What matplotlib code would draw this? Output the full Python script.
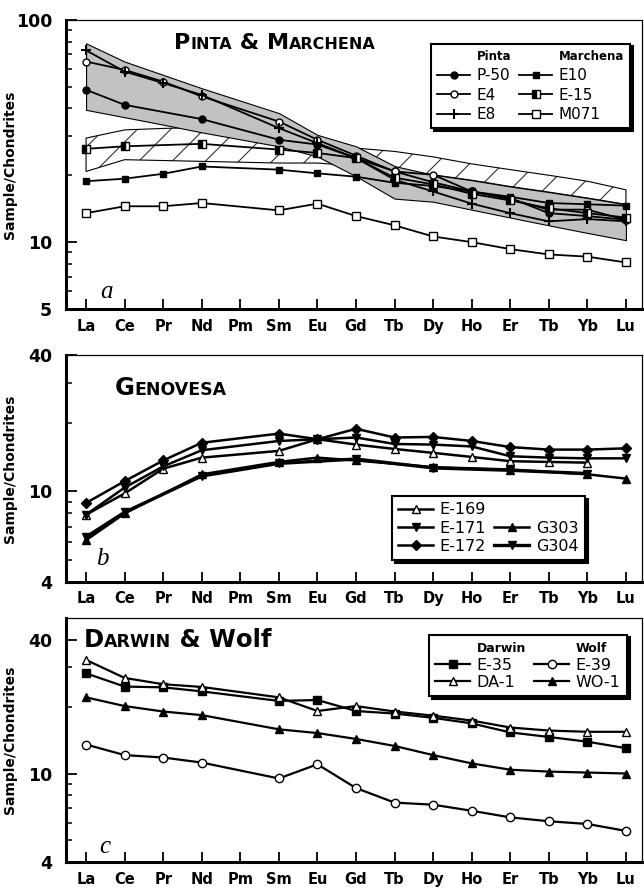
import numpy as np
import matplotlib
matplotlib.use('Agg')
import matplotlib.pyplot as plt
from matplotlib.lines import Line2D
from matplotlib.ticker import FixedLocator, NullFormatter
from matplotlib.offsetbox import TextArea, HPacker, AnnotationBbox

nan = np.nan
cats = ['La', 'Ce', 'Pr', 'Nd', 'Pm', 'Sm', 'Eu', 'Gd', 'Tb', 'Dy', 'Ho', 'Er', 'Tb', 'Yb', 'Lu']

# panel a - Pinta & Marchena
p50 = [48.5, 41.5, nan, 35.8, nan, 28.9, 27.5, 23.9, 20.8, 18.6, 16.9, 15.8, 13.5, 13.1, 12.6]
e4 = [65.0, 59.6, 52.8, 45.3, nan, 34.9, 28.9, 24.5, 20.8, 20.1, 16.9, 15.6, 14.0, 14.0, 12.6]
e8 = [73.0, 58.6, 52.0, 46.0, nan, 32.6, 27.9, 23.9, 19.1, 16.9, 14.9, 13.5, 12.4, 12.7, 12.4]
e10 = [18.8, 19.3, 20.3, 21.9, nan, 21.2, 20.4, 19.7, 18.5, 17.9, 16.9, 16.0, 15.0, 14.8, 14.6]
e15 = [26.3, 27.0, nan, 27.7, nan, 26.1, 25.2, 23.9, 19.5, 18.2, 16.5, 15.4, 14.2, 13.5, 12.9]
m071 = [13.5, 14.5, 14.5, 15.0, nan, 13.9, 14.9, 13.1, 11.9, 10.6, 10.0, 9.3, 8.8, 8.6, 8.1]
pinta_hi = [78.5, 65.0, 56.6, 49.3, nan, 38.1, 30.4, 27.0, 22.0, 20.1, 19.0, 17.8, 16.8, 15.8, 14.8]
pinta_lo = [39.4, 36.5, 33.8, 31.2, nan, 27.0, 24.3, 19.8, 15.7, 15.2, 14.0, 12.9, 11.9, 11.0, 10.2]
march_hi = [29.4, 32.0, 32.5, 32.8, nan, 29.4, 28.2, 26.5, 25.6, 24.2, 22.5, 21.2, 20.0, 18.8, 17.2]
march_lo = [20.8, 23.5, 23.3, 23.1, nan, 22.7, 22.7, 22.0, 21.0, 20.1, 19.0, 17.8, 16.8, 15.8, 14.8]

# panel b - Genovesa
e169 = [7.9, 9.8, 12.6, 14.1, nan, 15.1, 17.0, 16.1, 15.4, 14.8, 14.2, 13.6, 13.5, 13.4, nan]
e171 = [7.9, 10.4, 12.9, 15.2, nan, 16.7, 17.0, 17.3, 16.2, 16.1, 15.8, 14.3, 14.1, 14.0, 14.0]
e172 = [8.9, 11.1, 13.7, 16.4, nan, 18.0, 17.0, 18.9, 17.3, 17.4, 16.7, 15.7, 15.3, 15.3, 15.5]
g303 = [6.1, 8.0, nan, 11.9, nan, 13.5, 14.1, 13.7, nan, 12.8, nan, 12.5, nan, 11.9, 11.4]
g304 = [6.3, 8.1, nan, 11.7, nan, 13.3, nan, 13.9, nan, 12.7, nan, 12.4, nan, 12.0, nan]

# panel c - Darwin & Wolf
e35 = [28.2, 24.6, 24.4, 23.4, nan, 21.2, 21.4, 19.1, 18.6, 17.8, 16.8, 15.3, 14.6, 13.9, 13.0]
da1 = [32.4, 26.9, 25.2, 24.5, nan, 22.0, 19.1, 20.1, 19.0, 18.2, 17.3, 16.1, 15.6, 15.4, 15.4]
e39 = [13.5, 12.1, 11.8, 11.2, nan, 9.5, 11.0, 8.6, 7.4, 7.24, 6.8, 6.35, 6.1, 5.93, 5.52]
wo1 = [22.0, 20.1, 19.0, 18.3, nan, 15.8, 15.2, 14.3, 13.3, 12.1, 11.1, 10.4, 10.2, 10.1, 10.0]

plt.rcParams['font.family'] = ['DejaVu Sans']
plt.rcParams['hatch.linewidth'] = 0.8

x = np.arange(len(cats))


def series(ax, vals, **kw):
    v = np.array(vals, dtype=float)
    m = ~np.isnan(v)
    return ax.plot(x[m], v[m], color='black', markeredgecolor='black', **kw)[0]


def band(ax, lo, hi, **kw):
    lo = np.array(lo, dtype=float)
    hi = np.array(hi, dtype=float)
    m = ~np.isnan(lo)
    ax.fill_between(x[m], lo[m], hi[m], **kw)


def smallcaps(ax, xa, ya, parts, big, small):
    boxes = [TextArea(t, textprops=dict(fontsize=big if b else small, fontweight='bold'))
             for t, b in parts]
    pack = HPacker(children=boxes, align='baseline', pad=0, sep=0)
    ab = AnnotationBbox(pack, (xa, ya), xycoords='axes fraction', box_alignment=(0, 0),
                        frameon=False, pad=0)
    ax.add_artist(ab)


def style(ax, lo, hi, majors, labels, minors):
    ax.set_yscale('log')
    ax.set_ylim(lo, hi)
    ax.set_xlim(-0.52, 14.41)
    ax.set_xticks(x)
    ax.set_xticklabels(cats, fontweight='bold', fontsize=10.5)
    ax.yaxis.set_major_locator(FixedLocator(majors))
    ax.set_yticklabels(labels, fontweight='bold', fontsize=12.5)
    ax.yaxis.set_minor_locator(FixedLocator(minors))
    ax.yaxis.set_minor_formatter(NullFormatter())
    ax.tick_params(axis='x', direction='in', length=7, width=1.3, pad=7, top=False)
    ax.tick_params(axis='y', which='major', direction='in', length=8, width=1.3, pad=10, right=False)
    ax.tick_params(axis='y', which='minor', direction='in', length=4, width=1.1, right=False)
    for s in ['left', 'bottom']:
        ax.spines[s].set_linewidth(2.2)
    for s in ['top', 'right']:
        ax.spines[s].set_linewidth(0.9)
    ax.set_ylabel('Sample/Chondrites', fontweight='bold', fontsize=10)
    ax.yaxis.set_label_coords(-0.085, 0.5)


blank = Line2D([], [], color='none')

fig = plt.figure(figsize=(6.44, 8.93), dpi=100)
ax1 = fig.add_axes([0.1025, 0.654, 0.894, 0.3236])
ax2 = fig.add_axes([0.1025, 0.3486, 0.894, 0.2539])
ax3 = fig.add_axes([0.1025, 0.0347, 0.894, 0.2732])

# ---- a ----
band(ax1, march_lo, march_hi, facecolor='white', edgecolor='#333333', hatch='/', linewidth=0, zorder=1)
band(ax1, march_lo, march_hi, facecolor='none', edgecolor='black', linewidth=0.8, zorder=1.1)
band(ax1, pinta_lo, pinta_hi, facecolor='#c2c2c2', edgecolor='black', linewidth=0.8, zorder=1.5)
h_p50 = series(ax1, p50, lw=1.3, marker='o', ms=5, markerfacecolor='black')
h_e4 = series(ax1, e4, lw=1.3, marker='o', ms=5, markerfacecolor='white')
h_e8 = series(ax1, e8, lw=1.3, marker='+', ms=7, mew=1.5)
h_e10 = series(ax1, e10, lw=1.3, marker='s', ms=5, markerfacecolor='black')
h_e15 = series(ax1, e15, lw=1.3, marker='s', ms=5.5, fillstyle='left',
               markerfacecolor='black', markerfacecoloralt='white')
h_m071 = series(ax1, m071, lw=1.3, marker='s', ms=5.5, markerfacecolor='white')
style(ax1, 5, 100, [5, 10, 100], ['5', '10', '100'],
      [6, 7, 8, 9, 20, 30, 40, 50, 60, 70, 80, 90])
leg = ax1.legend([blank, h_p50, h_e4, h_e8, blank, h_e10, h_e15, h_m071],
                 ['Pinta', 'P-50', 'E4', 'E8', 'Marchena', 'E10', 'E-15', 'M071'],
                 ncol=2, loc='upper right', bbox_to_anchor=(0.993, 0.945), fontsize=11,
                 handlelength=2.2, handletextpad=0.4, columnspacing=0.5, labelspacing=0.3,
                 borderpad=0.4, fancybox=False, edgecolor='black',
                 shadow={'color': 'black', 'alpha': 1})
leg.get_frame().set_linewidth(1.5)
for i in (0, 4):
    leg.get_texts()[i].set_fontsize(8.5)
    leg.get_texts()[i].set_fontweight('bold')
smallcaps(ax1, 0.188, 0.885, [('P', 1), ('INTA', 0), (' & ', 1), ('M', 1), ('ARCHENA', 0)], 16, 11.5)
ax1.text(0.059, 0.038, 'a', transform=ax1.transAxes, fontsize=18, style='italic',
         family='Liberation Serif')

# ---- b ----
h_169 = series(ax2, e169, lw=1.8, marker='^', ms=6, markerfacecolor='white')
h_171 = series(ax2, e171, lw=1.8, marker='v', ms=6, markerfacecolor='black')
h_172 = series(ax2, e172, lw=1.8, marker='D', ms=5.5, markerfacecolor='black')
h_303 = series(ax2, g303, lw=1.8, marker='^', ms=6, markerfacecolor='black')
h_304 = series(ax2, g304, lw=2.4, marker='v', ms=6, markerfacecolor='black')
style(ax2, 4, 40, [4, 10, 40], ['4', '10', '40'], [5, 6, 7, 8, 9, 20, 30])
leg = ax2.legend([h_169, h_171, h_172, blank, h_303, h_304],
                 ['E-169', 'E-171', 'E-172', '', 'G303', 'G304'],
                 ncol=2, loc='lower right', bbox_to_anchor=(0.915, 0.06), fontsize=11.5,
                 handlelength=2.2, handletextpad=0.4, columnspacing=0.5, labelspacing=0.2,
                 borderpad=0.4, fancybox=False, edgecolor='black',
                 shadow={'color': 'black', 'alpha': 1})
leg.get_frame().set_linewidth(1.5)
smallcaps(ax2, 0.085, 0.80, [('G', 1), ('ENOVESA', 0)], 17.5, 12.5)
ax2.text(0.053, 0.074, 'b', transform=ax2.transAxes, fontsize=18, style='italic',
         family='Liberation Serif')

# ---- c ----
h_35 = series(ax3, e35, lw=1.6, marker='s', ms=6, markerfacecolor='black')
h_da = series(ax3, da1, lw=1.6, marker='^', ms=6, markerfacecolor='white')
h_39 = series(ax3, e39, lw=1.6, marker='o', ms=6, markerfacecolor='white')
h_wo = series(ax3, wo1, lw=1.6, marker='^', ms=6, markerfacecolor='black')
style(ax3, 4, 50, [4, 10, 40], ['4', '10', '40'], [5, 6, 7, 8, 9, 20, 30])
leg = ax3.legend([blank, h_35, h_da, blank, h_39, h_wo],
                 ['Darwin', 'E-35', 'DA-1', 'Wolf', 'E-39', 'WO-1'],
                 ncol=2, loc='upper right', bbox_to_anchor=(0.988, 0.965), fontsize=11.5,
                 handlelength=2.2, handletextpad=0.4, columnspacing=0.5, labelspacing=0.15,
                 borderpad=0.4, fancybox=False, edgecolor='black',
                 shadow={'color': 'black', 'alpha': 1})
leg.get_frame().set_linewidth(1.5)
for i in (0, 3):
    leg.get_texts()[i].set_fontsize(9)
    leg.get_texts()[i].set_fontweight('bold')
smallcaps(ax3, 0.031, 0.86, [('D', 1), ('ARWIN', 0), (' & W', 1), ('olf', 1)], 17.5, 12.5)
ax3.text(0.057, 0.036, 'c', transform=ax3.transAxes, fontsize=18, style='italic',
         family='Liberation Serif')

fig.savefig('out.png', dpi=100)
